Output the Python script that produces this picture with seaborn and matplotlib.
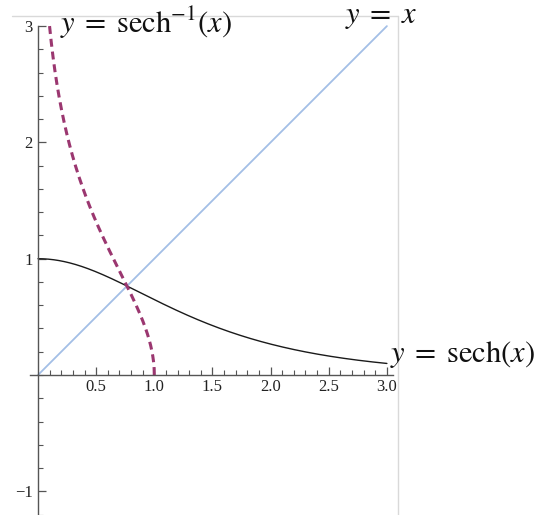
import numpy as np
import pandas as pd
import matplotlib
matplotlib.use("Agg")
import matplotlib.pyplot as plt
import seaborn as sns
from matplotlib.lines import Line2D

# Domains of the three curves
identity_x = [0.0, 3.0]
sech_x = [0.0, 3.0]
arcsech_x = [0.0993, 1.0]   # sech^-1(x) reaches y = 3 at x = sech(3)

xticks = [0.5, 1.0, 1.5, 2.0, 2.5, 3.0]
xtick_labels = ["0.5", "1.0", "1.5", "2.0", "2.5", "3.0"]
yticks = [-1, 1, 2, 3]
ytick_labels = ["\u22121", "1", "2", "3"]

labels = ["$y\\;=\\;\\mathrm{sech}^{-1}(x)$", "$y\\;=\\;x$", "$y\\;=\\;\\mathrm{sech}(x)$"]

sns.set_theme(style="white")
plt.rcParams["mathtext.fontset"] = "stix"
plt.rcParams["font.family"] = ["Liberation Serif", "DejaVu Serif"]

W, H = 537, 515
fig = plt.figure(figsize=(W / 100, H / 100), dpi=100)

xlim = (-0.07, 3.05)
ylim = (-1.2, 3.0)
px_per_x = 116.3
px_per_y = 116.3
x0_px, y0_px = 38.0, 375.0
left = x0_px + xlim[0] * px_per_x
right = x0_px + xlim[1] * px_per_x
top = y0_px - ylim[1] * px_per_y
bottom = y0_px - ylim[0] * px_per_y
ax = fig.add_axes([left / W, 1 - bottom / H, (right - left) / W, (bottom - top) / H])

# Curve samples
xi = np.linspace(identity_x[0], identity_x[1], 200)
xs = np.linspace(sech_x[0], sech_x[1], 400)
xa = np.linspace(arcsech_x[0], arcsech_x[1], 600)
df_id = pd.DataFrame({"x": xi, "y": xi})
df_sech = pd.DataFrame({"x": xs, "y": 1 / np.cosh(xs)})
df_asech = pd.DataFrame({"x": xa, "y": np.log((1 + np.sqrt(np.clip(1 - xa**2, 0, None))) / xa)})

sns.lineplot(data=df_id, x="x", y="y", ax=ax, color="#a3bfe6", lw=1.3, sort=False)
sns.lineplot(data=df_sech, x="x", y="y", ax=ax, color="#1a1a1a", lw=1.0, sort=False)
sns.lineplot(data=df_asech, x="x", y="y", ax=ax, color="#9b3770", lw=2.2, sort=False,
             dashes=False)
ax.lines[-1].set_dashes([2.6, 1.6])
for ln in ax.lines:
    ln.set_clip_on(False)

ax.set_xlim(*xlim)
ax.set_ylim(*ylim)
ax.set_xlabel("")
ax.set_ylabel("")

# Axes crossing at the origin
for s in ["top", "right"]:
    ax.spines[s].set_visible(False)
ax.spines["left"].set_position(("data", 0))
ax.spines["bottom"].set_position(("data", 0))
ax.spines["left"].set_bounds(ylim[0], 3.0)
ax.spines["bottom"].set_bounds(xlim[0], xlim[1])
for s in ["left", "bottom"]:
    ax.spines[s].set_color("#555555")
    ax.spines[s].set_linewidth(1.0)

ax.set_xticks(xticks)
ax.set_xticklabels(xtick_labels)
ax.set_yticks(yticks)
ax.set_yticklabels(ytick_labels)
ax.set_xticks(np.round(np.arange(0.1, 3.01, 0.1), 2), minor=True)
ax.set_yticks(np.round(np.arange(-1.2, 3.01, 0.2), 2), minor=True)
ax.tick_params(axis="both", which="major", direction="in", length=6, width=0.9,
               color="#555555", labelsize=12, labelcolor="#222222")
ax.tick_params(axis="both", which="minor", direction="in", length=3.5, width=0.8,
               color="#555555")
ax.tick_params(axis="x", which="major", pad=3)
ax.tick_params(axis="y", which="major", pad=4)
ax.tick_params(axis="x", which="both", bottom=True)
ax.tick_params(axis="y", which="both", left=True)

# Light frame line along top and right
fig.add_artist(Line2D([12 / W, 398 / W], [1 - 16 / H, 1 - 16 / H], color="#d9d9d9", lw=1.0))
fig.add_artist(Line2D([398 / W, 398 / W], [1 - 16 / H, 0], color="#d9d9d9", lw=1.0))

# Curve labels
fig.text(60 / W, 1 - 33 / H, labels[0], fontsize=22, ha="left", va="baseline", color="#111111")
fig.text(345 / W, 1 - 23 / H, labels[1], fontsize=22, ha="left", va="baseline", color="#111111")
fig.text(390 / W, 1 - 362 / H, labels[2], fontsize=22, ha="left", va="baseline", color="#111111")

fig.savefig("out.png", dpi=100)
